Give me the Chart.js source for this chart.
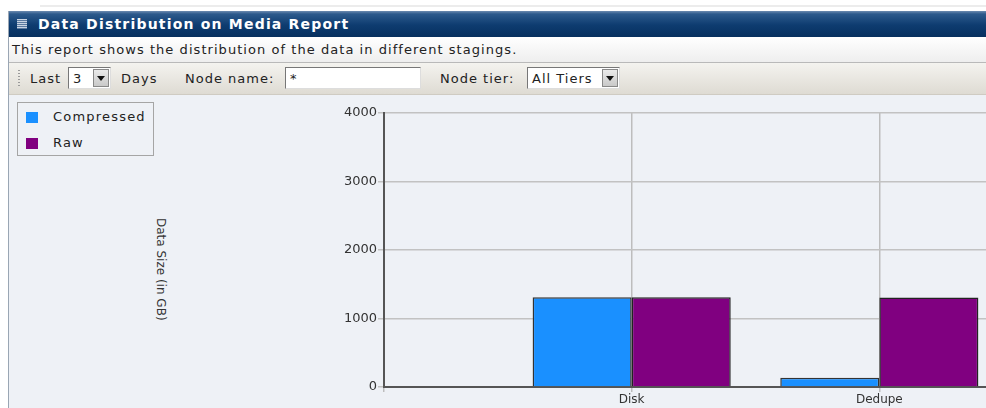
<!DOCTYPE html>
<html>
<head>
<meta charset="utf-8">
<script src="https://cdn.jsdelivr.net/npm/chart.js@4.4.1/dist/chart.umd.min.js"></script>
<style>
  html, body { margin: 0; padding: 0; }
  body {
    width: 986px; height: 408px; overflow: hidden; position: relative;
    background: #fff; font-family: "DejaVu Sans", Verdana, sans-serif; color: #222;
  }
  .tabs { position: absolute; left: 40px; top: 5px; width: 946px; height: 2px; background: #ececec; }
  .panel { position: absolute; left: 8px; top: 11px; width: 1000px; height: 400px; border-left: 1px solid #9aa6b4; }
  .hdr {
    height: 26px; line-height: 26px; color: #fff; font-weight: bold; font-size: 14px;
    background: linear-gradient(#6d8bb0 0px, #2d5a8c 3px, #0e3c70 14px, #07305f 26px);
    padding-left: 29px; position: relative; letter-spacing: 1.2px;
  }
  .hdr .ico { position: absolute; left: 8px; top: 8px; width: 10px; height: 10px;
    background: repeating-linear-gradient(#c9d4e3 0 1px, #5c7aa0 1px 2px); }
  .desc {
    height: 25px; line-height: 25px; font-size: 13px; padding-left: 3px; letter-spacing: 1.05px;
    background: linear-gradient(#ffffff, #eeeeee); border-bottom: 1px solid #b9b9b9;
  }
  .bar {
    height: 31px; position: relative; font-size: 13px; letter-spacing: 1px;
    background: linear-gradient(#f4f3ef, #dedbd3); border-bottom: 1px solid #cfcbc2;
  }
  .bar span, .bar .box { position: absolute; top: 0; line-height: 31px; }
  .grip { position: absolute; left: 9px; top: 7px; width: 2px; height: 18px;
    background: repeating-linear-gradient(#9a9a9a 0 1px, transparent 1px 3px); }
  .box { top: 4px !important; height: 22px; line-height: 22px !important; background: #fff;
    border: 1px solid #777; border-right-color: #ddd; border-bottom-color: #ddd; box-sizing: border-box; padding-left: 4px; }
  .btn { position: absolute; right: 1px; top: 1px; width: 16px; height: 18px; background: linear-gradient(#eaeaea, #c9c9c9);
    border: 1px solid #888; box-sizing: border-box; }
  .btn:after { content: ""; position: absolute; left: 3px; top: 6px; border-left: 4px solid transparent;
    border-right: 4px solid transparent; border-top: 5px solid #111; }
  .body { position: absolute; left: 0; top: 84px; width: 1000px; height: 320px; background: #eef1f6; }
  .legend { position: absolute; left: 8px; top: 7px; width: 135px; height: 52px; border: 1px solid #a5a5a5;
    font-size: 13px; letter-spacing: 1.2px; }
  .legend div { position: absolute; left: 35px; }
  .legend i { position: absolute; left: -27px; top: 3px; width: 12px; height: 11px; }
  .ytitle { position: absolute; left: 145px; top: 123px; writing-mode: vertical-rl; font-size: 12px; color: #333; }
  canvas { position: absolute; left: 331px; top: 0px; }
</style>
</head>
<body>
<div class="tabs"></div>
<div class="panel">
  <div class="hdr"><div class="ico"></div>Data Distribution on Media Report</div>
  <div class="desc">This report shows the distribution of the data in different stagings.</div>
  <div class="bar">
    <div class="grip"></div>
    <span style="left:21px">Last</span>
    <div class="box" style="left:59px;width:43px">3<div class="btn"></div></div>
    <span style="left:112px">Days</span>
    <span style="left:176px">Node name:</span>
    <div class="box" style="left:276px;width:136px">*</div>
    <span style="left:431px">Node tier:</span>
    <div class="box" style="left:518px;width:93px">All Tiers<div class="btn"></div></div>
  </div>
  <div class="body">
    <div class="legend" id="legend"></div>
    <div class="ytitle">Data Size (in GB)</div>
    <canvas id="myChart" width="788" height="313"></canvas>
  </div>
</div>
<script>
// categories: blank slots at both ends so Disk/Dedupe fall on the gridlines
const categories = ['', 'Disk', 'Dedupe', ''];
const compressed = [null, 1310, 135, null];
const raw = [null, 1310, 1305, null];
const yTicks = [0, 1000, 2000, 3000, 4000];
const seriesNames = ['Compressed', 'Raw'];
const seriesColors = ['#1a90ff', '#800080'];

// html legend
const legend = document.getElementById('legend');
seriesNames.forEach(function(name, i) {
    const row = document.createElement('div');
    row.style.top = (6 + i * 26) + 'px';
    row.innerHTML = '<i style="background:' + seriesColors[i] + '"></i>' + name;
    legend.appendChild(row);
});

const ctx = document.getElementById('myChart').getContext('2d');
new Chart(ctx, {
    type: 'bar',
    data: {
        labels: categories,
        datasets: [{
            label: seriesNames[0],
            data: compressed,
            backgroundColor: seriesColors[0],
            borderColor: '#333',
            borderWidth: 1.5
        }, {
            label: seriesNames[1],
            data: raw,
            backgroundColor: seriesColors[1],
            borderColor: '#222',
            borderWidth: 1.5
        }]
    },
    options: {
        responsive: false,
        animation: false,
        categoryPercentage: 0.8,
        barPercentage: 1.0,
        layout: { padding: { top: 18, right: 0, bottom: 0, left: 0 } },
        plugins: { legend: { display: false }, tooltip: { enabled: false } },
        scales: {
            x: {
                offset: false,
                grid: { offset: false, color: '#bdbdbd', lineWidth: 1.5, tickLength: 5 },
                border: { color: '#555', width: 2 },
                ticks: { color: '#333', font: { family: 'DejaVu Sans', size: 12 }, padding: 1, maxRotation: 0 },
                afterFit: function(scale) { scale.height = 21; }
            },
            y: {
                min: 0,
                max: yTicks[yTicks.length - 1],
                afterBuildTicks: function(scale) { scale.ticks = yTicks.map(function(v) { return { value: v }; }); },
                grid: { color: '#c2c2c2', lineWidth: 1.5, tickLength: 6 },
                border: { color: '#555', width: 2 },
                ticks: {
                    color: '#333', font: { family: 'DejaVu Sans', size: 13 }, padding: 1,
                    callback: function(v) { return String(v); }
                },
                afterFit: function(scale) { scale.width = 44; }
            }
        }
    }
});
</script>
</body>
</html>
